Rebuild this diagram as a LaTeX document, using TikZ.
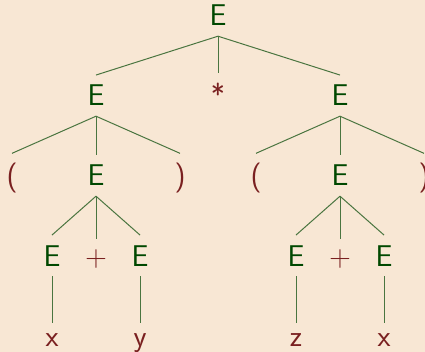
\documentclass[tikz,border=0pt]{standalone}
\usepackage{xcolor}
\definecolor{bgbeige}{HTML}{F8E7D4}
\definecolor{ntgreen}{HTML}{004800}
\definecolor{tred}{HTML}{7A2020}
\definecolor{edgegreen}{HTML}{4A7540}
\tikzset{
  nt/.style={anchor=base, inner sep=10pt, text=ntgreen},
  term/.style={anchor=base, inner sep=10pt, text=tred},
  tedge/.style={draw=edgegreen, line width=1pt}
}

\begin{document}
\begin{tikzpicture}[x=1pt, y=-1pt, font=\fontsize{30}{36}\selectfont\sffamily]
  % Hintergrund
  \fill[bgbeige] (0,0) rectangle (425,352);
  \useasboundingbox (0,0) rectangle (425,352);

  % Knoten
  \node[nt] (e0) at (218,26) {E};

  \node[nt] (e1) at (96,106) {E};
  \node[term] (star) at (218,106) {*};
  \node[nt] (e2) at (340,106) {E};

  \node[term] (lp1) at (12,186) {(};
  \node[nt] (e11) at (96,186) {E};
  \node[term] (rp1) at (180,186) {)};
  \node[term] (lp2) at (256,186) {(};
  \node[nt] (e21) at (340,186) {E};
  \node[term] (rp2) at (424,186) {)};

  \node[nt] (e111) at (52,266) {E};
  \node[term] (plus1) at (96,266) {+};
  \node[nt] (e112) at (140,266) {E};
  \node[nt] (e211) at (296,266) {E};
  \node[term] (plus2) at (340,266) {+};
  \node[nt] (e212) at (384,266) {E};

  \node[term] (x1) at (52,346) {x};
  \node[term] (y1) at (140,346) {y};
  \node[term] (z2) at (296,346) {z};
  \node[term] (x2) at (384,346) {x};

  % Kanten
  \foreach \p/\c in {e0/e1, e0/star, e0/e2,
                     e1/lp1, e1/e11, e1/rp1, e2/lp2, e2/e21, e2/rp2,
                     e11/e111, e11/plus1, e11/e112, e21/e211, e21/plus2, e21/e212,
                     e111/x1, e112/y1, e211/z2, e212/x2}
    \draw[tedge] (\p.south) -- (\c.north);
\end{tikzpicture}
\end{document}
